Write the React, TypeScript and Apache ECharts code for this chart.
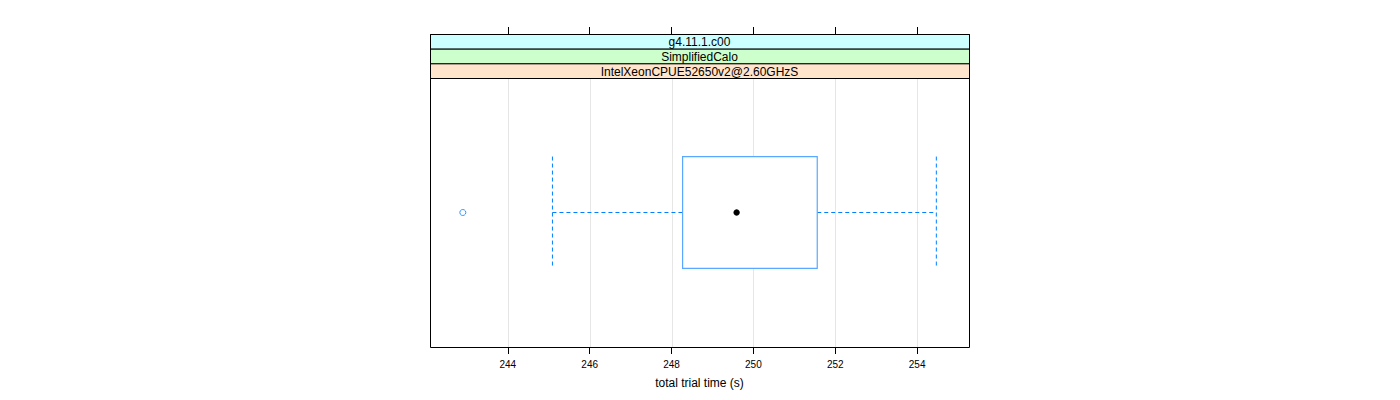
import React, { useEffect, useRef } from "react";
import * as echarts from "echarts";

const categories = ["IntelXeonCPUE52650v2@2.60GHzS"];
const stripLabels = ["g4.11.1.c00", "SimplifiedCalo", "IntelXeonCPUE52650v2@2.60GHzS"];
const stripColors = ["#ccffff", "#ccffcc", "#ffe5cc"];
const lowerWhisker = [245.09];
const q1 = [248.27];
const median = [249.59];
const q3 = [251.56];
const upperWhisker = [254.47];
const outliers = [242.9];
const tickValues = [244, 246, 248, 250, 252, 254];
const xMin = 242.098;
const xMax = 255.268;

const BOX = "#0080ff";

export default function App() {
  const ref = useRef<HTMLDivElement>(null);
  useEffect(() => {
    if (!ref.current) return;
    const chart = echarts.init(ref.current, null, { renderer: "svg" });
    const left = 430, right = 969, top = 78, bottom = 347, stripTop = 34;
    const stripH = (top - stripTop) / 3;
    const boxData = categories.map((_, i) => [
      lowerWhisker[i], q1[i], median[i], q3[i], upperWhisker[i], i,
    ]);
    const graphics: any[] = [];
    stripLabels.forEach((lab, i) => {
      const y = stripTop + i * stripH;
      graphics.push({
        type: "rect",
        shape: { x: left + 0.5, y: y + 0.5, width: right - left, height: stripH },
        style: { fill: stripColors[i], stroke: "#000", lineWidth: 1 },
        z: 10,
      });
      graphics.push({
        type: "text",
        x: (left + right) / 2,
        y: y + stripH / 2 + 1,
        style: {
          text: lab,
          fontSize: 12,
          fontFamily: "Liberation Sans, Arial, sans-serif",
          fill: "#000",
          align: "center",
          verticalAlign: "middle",
        },
        z: 11,
      });
    });
    graphics.push({
      type: "rect",
      shape: { x: left + 0.5, y: stripTop + 0.5, width: right - left, height: bottom - stripTop },
      style: { fill: "none", stroke: "#000", lineWidth: 1 },
      z: 12,
    });

    chart.setOption({
      animation: false,
      backgroundColor: "#fff",
      textStyle: { fontFamily: "Liberation Sans, Arial, sans-serif" },
      grid: { left, top, width: right - left, height: bottom - top, show: false },
      xAxis: [
        {
          type: "value",
          min: xMin,
          max: xMax,
          position: "bottom",
          axisLine: { show: false },
          axisTick: { show: true, customValues: tickValues, length: 7, lineStyle: { color: "#000" } },
          axisLabel: { show: true, customValues: tickValues, fontSize: 10, color: "#000", margin: 12 },
          splitLine: { show: false },
          name: "total trial time (s)",
          nameLocation: "middle",
          nameGap: 30,
          nameTextStyle: { fontSize: 12, color: "#000" },
        },
        {
          type: "value",
          min: xMin,
          max: xMax,
          position: "top",
          offset: top - stripTop,
          axisLine: { show: false },
          axisTick: { show: true, customValues: tickValues, length: 7, lineStyle: { color: "#000" } },
          axisLabel: { show: false },
          splitLine: { show: false },
        },
      ],
      yAxis: {
        type: "category",
        data: categories,
        axisLine: { show: false },
        axisTick: { show: false },
        axisLabel: { show: false },
        splitLine: { show: false },
      },
      graphic: graphics,
      series: [
        {
          type: "custom",
          xAxisIndex: 0,
          z: 1,
          data: tickValues.map((v) => [v, 0]),
          renderItem: (params: any, api: any) => {
            const x = Math.round(api.coord([api.value(0), 0])[0]) + 0.5;
            const cs = params.coordSys;
            return {
              type: "line",
              shape: { x1: x, y1: cs.y, x2: x, y2: cs.y + cs.height },
              style: { stroke: "#e6e6e6", lineWidth: 1 },
            };
          },
        },
        {
          type: "custom",
          xAxisIndex: 0,
          z: 3,
          data: boxData,
          encode: { x: [0, 1, 2, 3, 4], y: 5 },
          renderItem: (params: any, api: any) => {
            const cat = api.value(5);
            const pLw = api.coord([api.value(0), cat]);
            const pQ1 = api.coord([api.value(1), cat]);
            const pMed = api.coord([api.value(2), cat]);
            const pQ3 = api.coord([api.value(3), cat]);
            const pUw = api.coord([api.value(4), cat]);
            const band = api.size([0, 1])[1];
            const half = band * 0.208;
            const cy = pMed[1];
            const dash = { stroke: BOX, lineWidth: 1, lineDash: [4, 3] };
            return {
              type: "group",
              children: [
                { type: "line", shape: { x1: pLw[0], y1: cy, x2: pQ1[0], y2: cy }, style: dash },
                { type: "line", shape: { x1: pQ3[0], y1: cy, x2: pUw[0], y2: cy }, style: dash },
                { type: "line", shape: { x1: pLw[0], y1: cy - half, x2: pLw[0], y2: cy + half }, style: dash },
                { type: "line", shape: { x1: pUw[0], y1: cy - half, x2: pUw[0], y2: cy + half }, style: dash },
                {
                  type: "rect",
                  shape: { x: pQ1[0], y: cy - half, width: pQ3[0] - pQ1[0], height: 2 * half },
                  style: { fill: "#fff", stroke: "#5aa8ff", lineWidth: 1.2 },
                },
                { type: "circle", shape: { cx: pMed[0], cy, r: 3.2 }, style: { fill: "#000" } },
              ],
            };
          },
        },
        {
          type: "scatter",
          xAxisIndex: 0,
          z: 4,
          data: outliers.map((v) => [v, 0]),
          symbol: "circle",
          symbolSize: 6,
          itemStyle: { color: "#fff", borderColor: BOX, borderWidth: 1 },
        },
      ],
    });
    return () => chart.dispose();
  }, []);
  return (
    <div
      ref={ref}
      style={{ position: "fixed", left: 0, top: 0, width: 1400, height: 400 }}
    />
  );
}
